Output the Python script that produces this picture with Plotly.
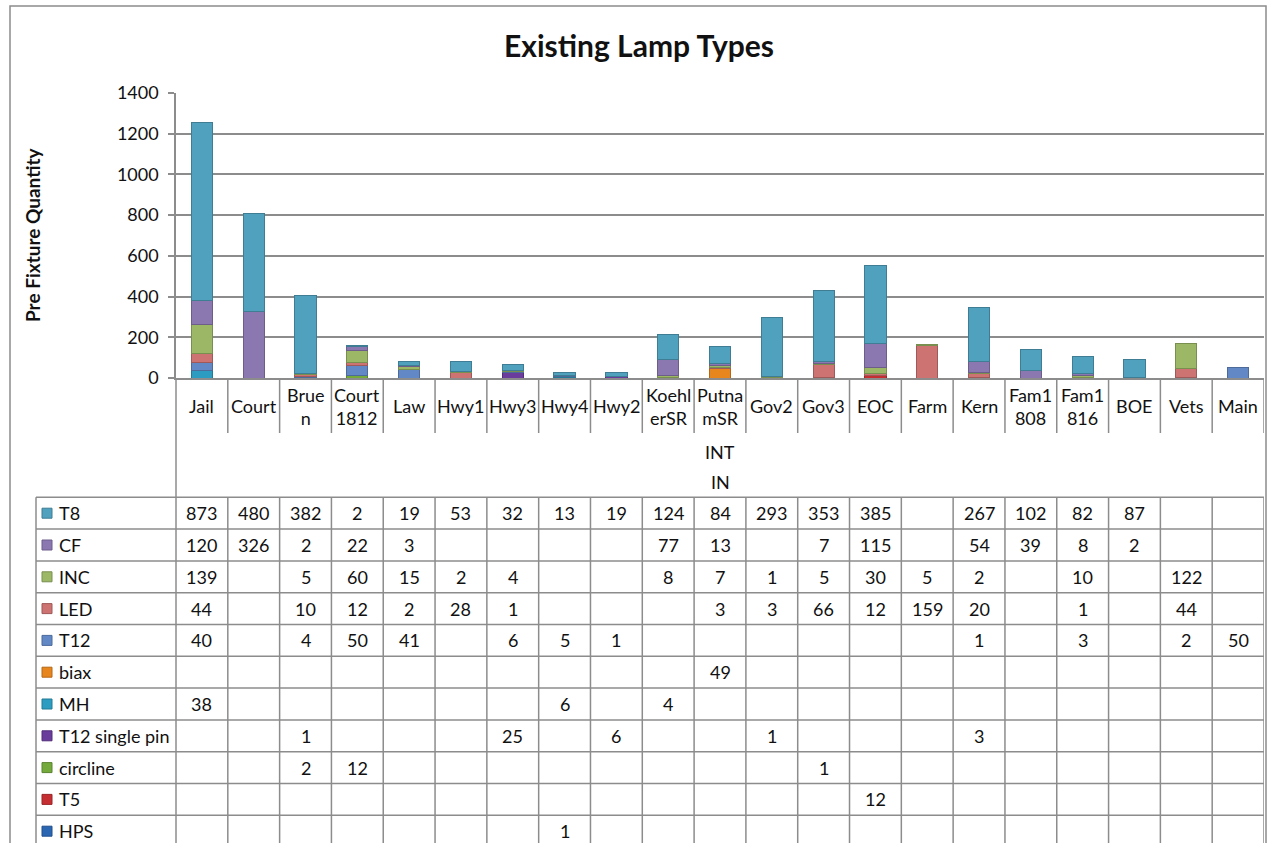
import plotly.graph_objects as go

# ---- data -------------------------------------------------------------
sites = ["Jail", "Court", "Bruen", "Court1812", "Law", "Hwy1", "Hwy3", "Hwy4",
         "Hwy2", "KoehlerSR", "PutnamSR", "Gov2", "Gov3", "EOC", "Farm", "Kern",
         "Fam1808", "Fam1816", "BOE", "Vets", "Main"]
site_labels = ["Jail", "Court", "Brue<br>n", "Court<br>1812", "Law", "Hwy1", "Hwy3",
               "Hwy4", "Hwy2", "Koehl<br>erSR", "Putna<br>mSR", "Gov2", "Gov3", "EOC",
               "Farm", "Kern", "Fam1<br>808", "Fam1<br>816", "BOE", "Vets", "Main"]
group_lines = ["INT", "IN"]

N = None
t8 =       [873, 480, 382, 2, 19, 53, 32, 13, 19, 124, 84, 293, 353, 385, N, 267, 102, 82, 87, N, N]
cf =       [120, 326, 2, 22, 3, N, N, N, N, 77, 13, N, 7, 115, N, 54, 39, 8, 2, N, N]
inc =      [139, N, 5, 60, 15, 2, 4, N, N, 8, 7, 1, 5, 30, 5, 2, N, 10, N, 122, N]
led =      [44, N, 10, 12, 2, 28, 1, N, N, N, 3, 3, 66, 12, 159, 20, N, 1, N, 44, N]
t12 =      [40, N, 4, 50, 41, N, 6, 5, 1, N, N, N, N, N, N, 1, N, 3, N, 2, 50]
biax =     [N, N, N, N, N, N, N, N, N, N, 49, N, N, N, N, N, N, N, N, N, N]
mh =       [38, N, N, N, N, N, N, 6, N, 4, N, N, N, N, N, N, N, N, N, N, N]
t12_pin =  [N, N, 1, N, N, N, 25, N, 6, N, N, 1, N, N, N, 3, N, N, N, N, N]
circline = [N, N, 2, 12, N, N, N, N, N, N, N, N, 1, N, N, N, N, N, N, N, N]
t5 =       [N, N, N, N, N, N, N, N, N, N, N, N, N, 12, N, N, N, N, N, N, N]
hps =      [N, N, N, N, N, N, N, 1, N, N, N, N, N, N, N, N, N, N, N, N, N]

lamp_names = ["T8", "CF", "INC", "LED", "T12", "biax", "MH", "T12 single pin",
              "circline", "T5", "HPS"]
lamp_values = [t8, cf, inc, led, t12, biax, mh, t12_pin, circline, t5, hps]
lamp_colors = ["#50A1BE", "#8B78B0", "#9CB866", "#CD7371", "#6289C6", "#E8861E",
               "#2C9DC0", "#6A3C9C", "#74AA3C", "#C62F32", "#2B66B3"]

# ---- geometry helpers (pixel -> paper) -------------------------------
W, H = 1269, 843
L, R, T, B = 176, 1264, 93, 378
FONT = "Lato, Carlito, Calibri, sans-serif"
GRID = "#8c8c8c"
INK = "#111111"


def fx(px):
    return (px - L) / (R - L)


def fy(py):
    return (B - py) / (B - T)


def darker(hex_color, f=0.78):
    h = hex_color.lstrip("#")
    r, g, b = (int(h[i:i + 2], 16) for i in (0, 2, 4))
    return "#%02x%02x%02x" % (int(r * f), int(g * f), int(b * f))


fig = go.Figure()

# stacked bars: the last table row sits at the bottom of each stack
for name, vals, col in reversed(list(zip(lamp_names, lamp_values, lamp_colors))):
    fig.add_trace(go.Bar(
        x=sites, y=vals, name=name, width=0.41,
        marker=dict(color=col, line=dict(color=darker(col), width=1)),
        showlegend=False,
    ))

shapes = []
annotations = []

# outer chart frame
shapes.append(dict(type="rect", xref="paper", yref="paper",
                   x0=fx(10), x1=fx(1266), y0=fy(852), y1=fy(6),
                   line=dict(color=GRID, width=1.5), layer="below"))

# left edge of the category / table block continues below the value axis
shapes.append(dict(type="line", xref="paper", yref="paper",
                   x0=0, x1=0, y0=fy(378), y1=fy(852),
                   line=dict(color=GRID, width=1.5)))

# category label band dividers
for i in range(len(sites)):
    shapes.append(dict(type="line", xref="x", yref="paper",
                       x0=i + 0.5, x1=i + 0.5, y0=fy(378), y1=fy(433),
                       line=dict(color=GRID, width=1.5)))

for i, lab in enumerate(site_labels):
    annotations.append(dict(x=sites[i], xref="x", y=fy(406), yref="paper",
                            text=lab, showarrow=False, xanchor="center",
                            yanchor="middle",
                            font=dict(family=FONT, size=18, color=INK)))

for k, line in enumerate(group_lines):
    annotations.append(dict(x=0.5, xref="paper", y=fy(452 + 30 * k), yref="paper",
                            text=line, showarrow=False, xanchor="center",
                            yanchor="middle",
                            font=dict(family=FONT, size=18, color=INK)))

# data table
row_top = 497.3
row_h = 31.8
n_rows = len(lamp_names)
for k in range(n_rows + 1):
    yy = row_top + k * row_h
    shapes.append(dict(type="line", xref="paper", yref="paper",
                       x0=fx(36), x1=1, y0=fy(yy), y1=fy(yy),
                       line=dict(color=GRID, width=1.5)))
y_bot = row_top + n_rows * row_h
shapes.append(dict(type="line", xref="paper", yref="paper",
                   x0=fx(36), x1=fx(36), y0=fy(row_top), y1=fy(y_bot),
                   line=dict(color=GRID, width=1.5)))
for i in range(len(sites)):
    shapes.append(dict(type="line", xref="x", yref="paper",
                       x0=i + 0.5, x1=i + 0.5, y0=fy(row_top), y1=fy(y_bot),
                       line=dict(color=GRID, width=1.5)))

for k, (name, vals, col) in enumerate(zip(lamp_names, lamp_values, lamp_colors)):
    yc = row_top + (k + 0.5) * row_h
    # legend key
    shapes.append(dict(type="rect", xref="paper", yref="paper",
                       x0=fx(42), x1=fx(52), y0=fy(yc + 5), y1=fy(yc - 5),
                       fillcolor=col, line=dict(color=darker(col), width=1)))
    annotations.append(dict(x=fx(57), xref="paper", y=fy(yc), yref="paper",
                            text=name, showarrow=False, xanchor="left",
                            yanchor="middle",
                            font=dict(family=FONT, size=18, color=INK)))
    for i, v in enumerate(vals):
        if v is None:
            continue
        annotations.append(dict(x=sites[i], xref="x", y=fy(yc), yref="paper",
                                text=str(v), showarrow=False, xanchor="center",
                                yanchor="middle",
                                font=dict(family=FONT, size=18, color=INK)))

# title and value-axis title
annotations.append(dict(x=fx(639), xref="paper", y=fy(45), yref="paper",
                        text="<b>Existing Lamp Types</b>", showarrow=False,
                        xanchor="center", yanchor="middle",
                        font=dict(family=FONT, size=30, color=INK)))
annotations.append(dict(x=fx(32), xref="paper", y=fy(235), yref="paper",
                        text="<b>Pre Fixture Quantity</b>", showarrow=False,
                        textangle=-90, xanchor="center", yanchor="middle",
                        font=dict(family=FONT, size=19, color=INK)))

fig.update_layout(
    width=W, height=H,
    margin=dict(l=L, r=W - R, t=T, b=H - B),
    paper_bgcolor="white", plot_bgcolor="white",
    barmode="stack", bargap=0.58,
    font=dict(family=FONT, size=18, color=INK),
    shapes=shapes, annotations=annotations,
    xaxis=dict(type="category", categoryorder="array", categoryarray=sites,
               range=[-0.5, len(sites) - 0.5], showticklabels=False,
               showgrid=False, zeroline=False, ticks="",
               showline=True, linecolor=GRID, linewidth=1.5),
    yaxis=dict(range=[0, 1400], dtick=200, showgrid=True, gridcolor=GRID,
               gridwidth=1.5, zeroline=False, showline=True, linecolor=GRID,
               linewidth=1.5, ticks="outside", ticklen=6, tickcolor=GRID,
               tickwidth=1.5, ticklabelstandoff=6,
               tickfont=dict(family=FONT, size=18, color=INK)),
)

fig.write_html("out.html")
